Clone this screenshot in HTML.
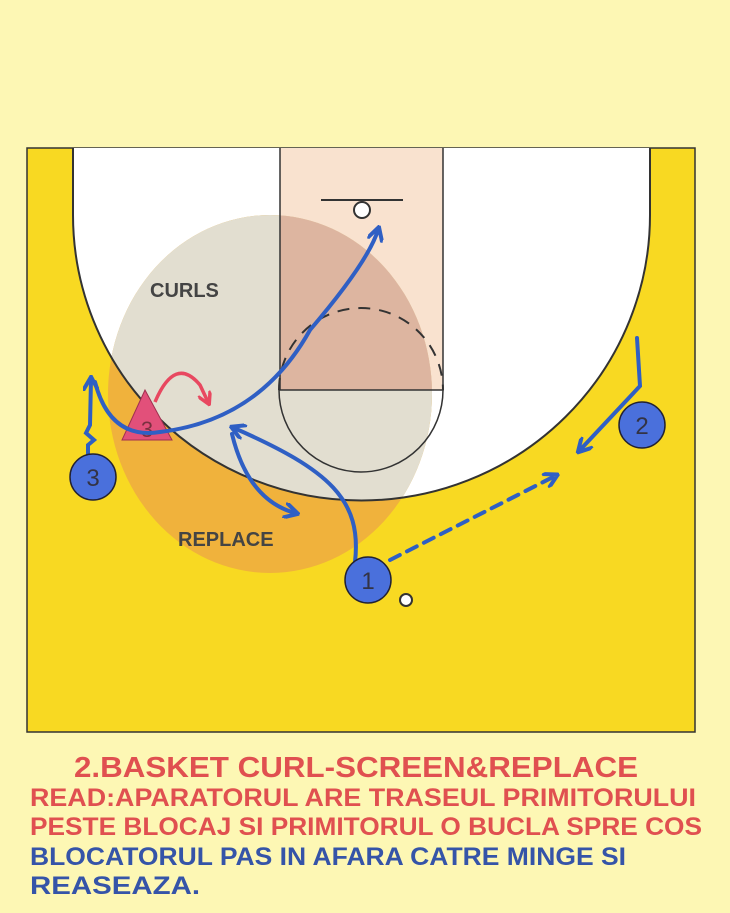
<!DOCTYPE html>
<html><head><meta charset="utf-8"><style>
html,body{margin:0;padding:0;background:#fdf7b4;width:730px;height:913px;overflow:hidden}
</style></head><body>
<svg width="730" height="913" viewBox="0 0 730 913" xmlns="http://www.w3.org/2000/svg" font-family="Liberation Sans, sans-serif">
<defs>
<clipPath id="arcClip"><path d="M73,148 L73,215 A288,285 0 0 0 650,215 L650,148 Z"/></clipPath>
<clipPath id="laneClip"><rect x="280" y="148" width="163" height="242"/></clipPath>
<marker id="ab" viewBox="0 0 10 10" refX="7" refY="5" markerWidth="4" markerHeight="4" orient="auto"><path d="M0,0 L9,5 L0,10" fill="none" stroke="#2f5fc4" stroke-width="2.5"/></marker>
<marker id="ar" viewBox="0 0 10 10" refX="7" refY="5" markerWidth="4" markerHeight="4" orient="auto"><path d="M0,0 L9,5 L0,10" fill="none" stroke="#e84860" stroke-width="2.5"/></marker>
</defs>
<rect x="27" y="148" width="668" height="584" fill="#f8d922" stroke="#333" stroke-width="1.5"/>
<path d="M73,148 L73,215 A288,285 0 0 0 650,215 L650,148 Z" fill="#fff"/>
<rect x="280" y="148" width="163" height="242" fill="#f9e2cf"/>
<ellipse cx="270" cy="394" rx="162" ry="179" fill="#f0b23c"/>
<ellipse cx="270" cy="394" rx="162" ry="179" fill="#e2ded0" clip-path="url(#arcClip)"/>
<g clip-path="url(#laneClip)"><ellipse cx="270" cy="394" rx="162" ry="179" fill="#ddb5a0"/></g>
<path d="M73,148 L73,215 A288,285 0 0 0 650,215 L650,148" fill="none" stroke="#333" stroke-width="2"/>
<path d="M280,148 V390 H443 V148" fill="none" stroke="#333" stroke-width="1.5"/>
<path d="M279,390 A82,82 0 0 0 443,390" fill="none" stroke="#333" stroke-width="1.5"/>
<path d="M279,390 A82,82 0 0 1 443,390" fill="none" stroke="#333" stroke-width="2" stroke-dasharray="12,9"/>
<line x1="321" y1="200" x2="403" y2="200" stroke="#333" stroke-width="2"/>
<circle cx="362" cy="210" r="8" fill="#fff" stroke="#333" stroke-width="2"/>
<text x="150" y="297" font-size="20" font-weight="bold" fill="#444">CURLS</text>
<text x="178" y="546" font-size="20" font-weight="bold" fill="#444">REPLACE</text>
<polygon points="145,390 122,440 172,440" fill="#e2507a" stroke="#a03050" stroke-width="1"/>
<text x="147" y="437" font-size="22" fill="#7a3040" text-anchor="middle">3</text>
<g fill="none" stroke="#2f5fc4" stroke-width="4" stroke-linecap="round">
<path d="M88,455 L88,445 L94,440 L86,433 L90,425 L91,380" marker-end="url(#ab)"/>
<path d="M95,382 Q110,440 160,432 Q260,420 310,330 Q368,262 378,230" marker-end="url(#ab)"/>
<path d="M355,562 C362,500 330,470 234,428" marker-end="url(#ab)"/>
<path d="M232,434 Q248,500 295,513" marker-end="url(#ab)"/>
<path d="M637,338 L640,386 L580,450" marker-end="url(#ab)"/>
<path d="M390,560 L555,476" stroke-dasharray="11,8" marker-end="url(#ab)"/>
</g>
<path d="M155,402 Q175,355 200,385 L208,402" fill="none" stroke="#e84860" stroke-width="3.5" marker-end="url(#ar)"/>
<g stroke="#223" stroke-width="1.5">
<circle cx="93" cy="477" r="23" fill="#4a70dc"/>
<circle cx="642" cy="425" r="23" fill="#4a70dc"/>
<circle cx="368" cy="580" r="23" fill="#4a70dc"/>
</g>
<g font-size="24" fill="#334" text-anchor="middle">
<text x="93" y="486">3</text><text x="642" y="434">2</text><text x="368" y="589">1</text>
</g>
<circle cx="406" cy="600" r="6" fill="#fff" stroke="#333" stroke-width="2"/>
<g font-weight="bold">
<text x="74" y="777" font-size="29" fill="#e05050" textLength="564" lengthAdjust="spacingAndGlyphs">2.BASKET CURL-SCREEN&amp;REPLACE</text>
<text x="30" y="806" font-size="25" fill="#e05050" textLength="666" lengthAdjust="spacingAndGlyphs">READ:APARATORUL ARE TRASEUL PRIMITORULUI</text>
<text x="30" y="835" font-size="25" fill="#e05050" textLength="672" lengthAdjust="spacingAndGlyphs">PESTE BLOCAJ SI PRIMITORUL O BUCLA SPRE COS</text>
<text x="30" y="865" font-size="25" fill="#3554a8" textLength="596" lengthAdjust="spacingAndGlyphs">BLOCATORUL PAS IN AFARA CATRE MINGE SI</text>
<text x="30" y="894" font-size="25" fill="#3554a8" textLength="170" lengthAdjust="spacingAndGlyphs">REASEAZA.</text>
</g>
</svg>
</body></html>
